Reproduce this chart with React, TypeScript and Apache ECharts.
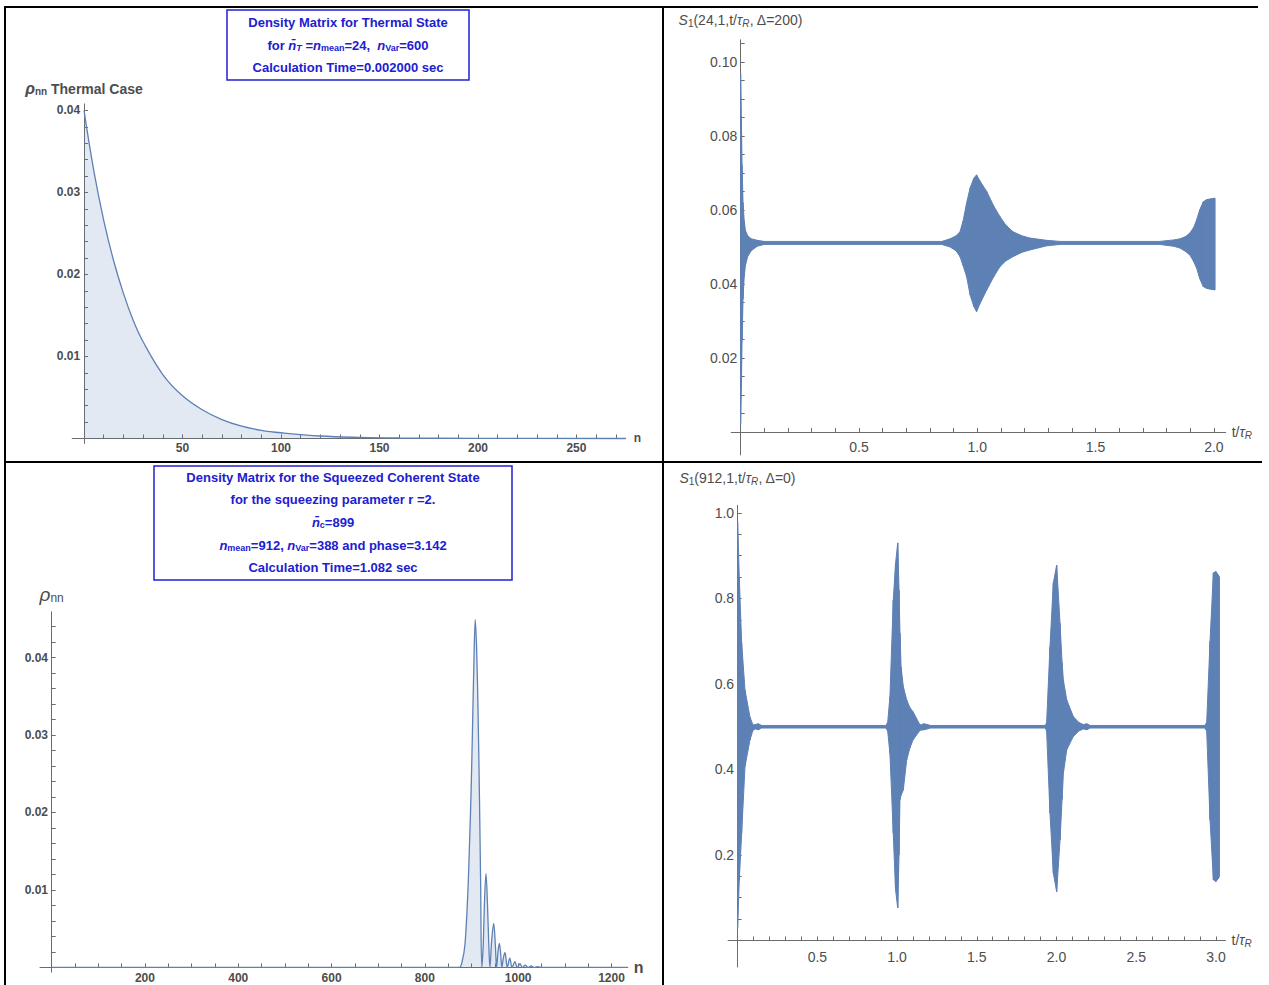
import React, { useEffect, useRef } from "react";
import * as echarts from "echarts";

const BLUE = "#5e81b5";
const AXIS = "#6b6b6b";
const LABEL = "#4d4d4d";
const TITLE_BLUE = "#2020d0";

// ---------- Panel 1: thermal density matrix ----------
const thermalN = [0, 5, 10, 15, 20, 25, 30, 40, 50, 60, 70, 80, 90, 100, 120, 140, 160, 200, 275];
const thermalRho = [0.04, 0.0326, 0.0266, 0.0217, 0.0177, 0.0144, 0.0118, 0.0078, 0.0052, 0.0035, 0.0023, 0.0015, 0.001, 0.0007, 0.0003, 0.00013, 0.00006, 0.00001, 0];

// ---------- Panel 2: squeezed coherent density matrix ----------
const squeezedN = [0, 860, 874, 880, 886, 892, 896, 899, 902, 905, 908, 911, 914, 917, 919.5, 922, 925, 928, 931, 934, 937, 939.5, 943, 947.5, 951, 953.7, 957, 959.6, 962.5, 965, 968.5, 971.7, 974, 976.6, 982, 987, 993, 998, 1004, 1009, 1015, 1021, 1028, 1034, 1042, 1050, 1060, 1235];
const squeezedRho = [0, 0, 0, 0.0008, 0.003, 0.0095, 0.0165, 0.0225, 0.0305, 0.039, 0.0449, 0.041, 0.033, 0.022, 0.011, 0, 0.0028, 0.0088, 0.0121, 0.0085, 0.003, 0, 0.0033, 0.0057, 0.003, 0, 0.0022, 0.0031, 0.0018, 0, 0.0013, 0.0019, 0.0011, 0, 0.0012, 0, 0.00075, 0, 0.0005, 0, 0.0003, 0, 0.0002, 0, 0.0001, 0, 0, 0];

// ---------- Panel 3: S1(24,1,t/τR, Δ=200) envelope ----------
const trT = [0, 0.003, 0.006, 0.01, 0.015, 0.02, 0.03, 0.045, 0.07, 0.1, 0.85, 0.885, 0.91, 0.927, 0.94, 0.955, 0.97, 0.985, 0.997, 1.01, 1.04, 1.07, 1.096, 1.12, 1.151, 1.19, 1.223, 1.293, 1.35, 1.77, 1.83, 1.857, 1.88, 1.899, 1.915, 1.927, 1.94, 1.955, 1.97, 1.985, 2.005];
const trLower = [0.002, 0.012, 0.025, 0.036, 0.042, 0.045, 0.0475, 0.049, 0.0502, 0.0507, 0.0507, 0.05, 0.049, 0.0474, 0.045, 0.042, 0.037, 0.034, 0.0325, 0.0345, 0.0384, 0.042, 0.0447, 0.0462, 0.0474, 0.0486, 0.0492, 0.0503, 0.0507, 0.0507, 0.0502, 0.0497, 0.0488, 0.0478, 0.046, 0.0443, 0.0415, 0.0393, 0.0388, 0.0386, 0.0384];
const trUpper = [0.097, 0.085, 0.072, 0.062, 0.057, 0.0545, 0.053, 0.0522, 0.0518, 0.0515, 0.0515, 0.0522, 0.053, 0.0541, 0.057, 0.0619, 0.066, 0.0685, 0.0695, 0.068, 0.065, 0.061, 0.0582, 0.056, 0.0541, 0.053, 0.0524, 0.0518, 0.0515, 0.0515, 0.0519, 0.0522, 0.0528, 0.0538, 0.0553, 0.0573, 0.06, 0.0622, 0.0628, 0.063, 0.0632];

// ---------- Panel 4: S1(912,1,t/τR, Δ=0) envelope ----------
const brT = [0, 0.01, 0.025, 0.046, 0.077, 0.096, 0.11, 0.13, 0.15, 0.93, 0.941, 0.955, 0.976, 0.99, 1.004, 1.012, 1.018, 1.025, 1.039, 1.06, 1.08, 1.1, 1.144, 1.17, 1.19, 1.21, 1.93, 1.938, 1.959, 1.98, 2.001, 2.022, 2.035, 2.043, 2.064, 2.105, 2.14, 2.168, 2.19, 2.21, 2.93, 2.942, 2.963, 2.984, 3.0, 3.015, 3.022];
const brLower = [0.03, 0.14, 0.251, 0.407, 0.469, 0.492, 0.495, 0.493, 0.497, 0.497, 0.49, 0.438, 0.251, 0.12, 0.076, 0.2, 0.329, 0.34, 0.352, 0.422, 0.45, 0.469, 0.492, 0.493, 0.495, 0.497, 0.497, 0.49, 0.298, 0.158, 0.114, 0.235, 0.33, 0.391, 0.446, 0.477, 0.49, 0.495, 0.493, 0.497, 0.497, 0.49, 0.282, 0.142, 0.138, 0.145, 0.15];
const brUpper = [0.98, 0.85, 0.696, 0.586, 0.523, 0.504, 0.505, 0.507, 0.503, 0.503, 0.51, 0.57, 0.796, 0.88, 0.93, 0.82, 0.719, 0.64, 0.594, 0.563, 0.545, 0.535, 0.504, 0.507, 0.505, 0.503, 0.503, 0.51, 0.687, 0.836, 0.878, 0.742, 0.65, 0.609, 0.563, 0.524, 0.51, 0.505, 0.507, 0.503, 0.503, 0.51, 0.7, 0.86, 0.863, 0.855, 0.85];

// ---------- tick labels ----------
const tlXLabels = [50, 100, 150, 200, 250];
const tlYLabels = [0.01, 0.02, 0.03, 0.04];
const blXLabels = [200, 400, 600, 800, 1000, 1200];
const blYLabels = [0.01, 0.02, 0.03, 0.04];
const trXLabels = [0.5, 1.0, 1.5, 2.0];
const trYLabels = [0.02, 0.04, 0.06, 0.08, 0.1];
const brXLabels = [0.5, 1.0, 1.5, 2.0, 2.5, 3.0];
const brYLabels = [0.2, 0.4, 0.6, 0.8, 1.0];

function ticks(step: number, count: number): number[] {
  const a: number[] = [];
  for (let i = 1; i <= count; i++) a.push(Math.round(i * step * 1e6) / 1e6);
  return a;
}

const zip = (xs: number[], ys: number[]) => xs.map((x, i) => [x, ys[i]]);

// rows [t0, lo0, up0, t1, lo1, up1] : one quad of the envelope band per row
const bandRows = (t: number[], lo: number[], up: number[]) =>
  t.slice(0, -1).map((x, i) => [x, lo[i], up[i], t[i + 1], lo[i + 1], up[i + 1]]);

const FONT_L = "'Liberation Sans', Arial, sans-serif";
const FONT_R = "'Liberation Sans Narrow', 'Liberation Sans', Arial, sans-serif";

function makeAxis(
  grid: number, min: number, max: number, labels: number[], minor: number[],
  fmt: (v: number) => string, name: any, right: boolean, margin: number
) {
  return {
    type: "value",
    gridIndex: grid,
    min,
    max,
    splitLine: { show: false },
    axisLine: { show: true, onZero: true, lineStyle: { color: AXIS, width: 1 } },
    axisTick: { show: true, inside: true, length: 4, customValues: minor, lineStyle: { color: AXIS } },
    axisLabel: {
      customValues: labels,
      formatter: (v: number) => fmt(v),
      color: LABEL,
      fontFamily: right ? FONT_R : FONT_L,
      fontWeight: right ? "normal" : "bold",
      fontSize: right ? 14 : 12,
      margin,
    },
    name: name.text,
    nameLocation: "end",
    nameGap: name.gap,
    nameTextStyle: name.style,
  };
}

export default function App() {
  const ref = useRef<HTMLDivElement>(null);

  useEffect(() => {
    if (!ref.current) return;
    const chart = echarts.init(ref.current, undefined, { renderer: "svg" });

    const rightNameStyle = {
      color: LABEL,
      fontFamily: FONT_R,
      fontSize: 14,
      rich: {
        i: { fontStyle: "italic", fontSize: 14, color: LABEL, fontFamily: FONT_R },
        s: { fontSize: 10, color: LABEL, fontFamily: FONT_R, padding: [7, 0, 0, 0] },
        si: { fontSize: 10, fontStyle: "italic", color: LABEL, fontFamily: FONT_R, padding: [7, 0, 0, 0] },
      },
    };

    const titleRich = {
      i: { fontStyle: "italic", fontWeight: "bold", fontSize: 13, fill: TITLE_BLUE, fontFamily: FONT_L },
      s: { fontWeight: "bold", fontSize: 9, fill: TITLE_BLUE, fontFamily: FONT_L, padding: [6, 0, 0, 0] },
      si: { fontStyle: "italic", fontWeight: "bold", fontSize: 9, fill: TITLE_BLUE, fontFamily: FONT_L, padding: [6, 0, 0, 0] },
    };
    const titleStyle = (text: string) => ({
      text,
      font: `bold 13px ${FONT_L}`,
      fill: TITLE_BLUE,
      align: "center",
      verticalAlign: "middle",
      rich: titleRich,
    });

    const bandSeries = (ai: number, t: number[], lo: number[], up: number[]) => ({
      type: "custom",
      xAxisIndex: ai,
      yAxisIndex: ai,
      data: bandRows(t, lo, up),
      encode: { x: [0, 3], y: [1, 2, 4, 5] },
      clip: true,
      renderItem: (_params: any, api: any) => {
        const a = api.coord([api.value(0), api.value(1)]);
        const b = api.coord([api.value(3), api.value(4)]);
        const c = api.coord([api.value(3), api.value(5)]);
        const d = api.coord([api.value(0), api.value(2)]);
        return {
          type: "polygon",
          shape: { points: [a, b, c, d] },
          style: { fill: BLUE, stroke: BLUE, lineWidth: 1, lineJoin: "round" },
        };
      },
    });

    const f2 = (v: number) => v.toFixed(2);
    const f1 = (v: number) => v.toFixed(1);
    const f0 = (v: number) => String(Math.round(v));

    chart.setOption({
      animation: false,
      backgroundColor: "#ffffff",
      grid: [
        { left: 72.2, top: 103.9, width: 553.5, height: 339.5 },
        { left: 40, top: 611.8, width: 587.8, height: 360.3 },
        { left: 731.2, top: 39.8, width: 494.5, height: 415.1 },
        { left: 728.1, top: 505.3, width: 497.4, height: 461.7 },
      ],
      xAxis: [
        makeAxis(0, -6, 275, tlXLabels, ticks(10, 27), f0, {
          text: "n", gap: 8,
          style: { color: LABEL, fontFamily: FONT_L, fontWeight: "bold", fontSize: 12 },
        }, false, -1),
        makeAxis(1, -25, 1235, blXLabels, ticks(50, 24), f0, {
          text: "n", gap: 6,
          style: { color: LABEL, fontFamily: FONT_L, fontWeight: "bold", fontSize: 16 },
        }, false, 0),
        makeAxis(2, -0.04, 2.05, trXLabels, ticks(0.1, 20), f1, {
          text: "t/{i|τ}{si|R}", gap: 6, style: rightNameStyle,
        }, true, -15),
        makeAxis(3, -0.06, 3.06, brXLabels, ticks(0.1, 30), f1, {
          text: "t/{i|τ}{si|R}", gap: 6, style: rightNameStyle,
        }, true, -17),
      ],
      yAxis: [
        makeAxis(0, -0.0006, 0.0408, tlYLabels, ticks(0.002, 20), f2, {
          text: "{r|ρ}{s|nn} Thermal Case", gap: 7,
          style: {
            color: LABEL, fontFamily: FONT_L, fontWeight: "bold", fontSize: 14,
            rich: {
              r: { fontStyle: "italic", fontSize: 16, color: LABEL, fontFamily: FONT_L },
              s: { fontSize: 10, color: LABEL, fontFamily: FONT_L, padding: [6, 0, 0, 0] },
            },
          },
        }, false, -8),
        makeAxis(1, -0.0006, 0.0459, blYLabels, ticks(0.002, 22), f2, {
          text: "{r|ρ}{s|nn}", gap: 8,
          style: {
            color: LABEL, fontFamily: FONT_L, fontSize: 17,
            rich: {
              r: { fontStyle: "italic", fontSize: 19, color: LABEL, fontFamily: FONT_L },
              s: { fontSize: 12, color: LABEL, fontFamily: FONT_L, padding: [7, 0, 0, 0] },
            },
          },
        }, false, -8),
        makeAxis(2, -0.0062, 0.106, trYLabels, ticks(0.005, 21), f2, {
          text: "{i|S}{s|1}(24,1,t/{i|τ}{si|R}, Δ=200)", gap: 11, style: rightNameStyle,
        }, true, -6),
        makeAxis(3, -0.062, 1.018, brYLabels, ticks(0.05, 20), f1, {
          text: "{i|S}{s|1}(912,1,t/{i|τ}{si|R}, Δ=0)", gap: 19, style: rightNameStyle,
        }, true, -6),
      ],
      series: [
        {
          type: "line",
          xAxisIndex: 0,
          yAxisIndex: 0,
          data: zip(thermalN, thermalRho),
          smooth: 0.4,
          showSymbol: false,
          symbol: "none",
          lineStyle: { color: BLUE, width: 1.3 },
          areaStyle: { color: "rgba(94,129,181,0.25)" },
        },
        {
          type: "line",
          xAxisIndex: 1,
          yAxisIndex: 1,
          data: zip(squeezedN, squeezedRho),
          smooth: 0.35,
          showSymbol: false,
          symbol: "none",
          lineStyle: { color: BLUE, width: 1.3 },
          areaStyle: { color: "rgba(94,129,181,0.25)" },
        },
        bandSeries(2, trT, trLower, trUpper),
        bandSeries(3, brT, brLower, brUpper),
      ],
      graphic: [
        // table rules
        { type: "line", shape: { x1: 4, y1: 7, x2: 1258, y2: 7 }, style: { stroke: "#000", lineWidth: 2 }, z: 100 },
        { type: "line", shape: { x1: 5, y1: 6, x2: 5, y2: 985 }, style: { stroke: "#000", lineWidth: 2 }, z: 100 },
        { type: "line", shape: { x1: 663, y1: 6, x2: 663, y2: 985 }, style: { stroke: "#000", lineWidth: 2 }, z: 100 },
        { type: "line", shape: { x1: 4, y1: 462, x2: 1262, y2: 462 }, style: { stroke: "#000", lineWidth: 2 }, z: 100 },
        // thermal title box
        { type: "rect", shape: { x: 227, y: 10, width: 242, height: 70 }, style: { fill: "none", stroke: TITLE_BLUE, lineWidth: 1.5 }, z: 100 },
        { type: "text", x: 348, y: 22, style: titleStyle("Density Matrix for Thermal State"), z: 100 },
        { type: "text", x: 348, y: 45, style: titleStyle("for {i|n̄}{si|T} ={i|n}{s|mean}=24,  {i|n}{s|Var}=600"), z: 100 },
        { type: "text", x: 348, y: 67, style: titleStyle("Calculation Time=0.002000 sec"), z: 100 },
        // squeezed title box
        { type: "rect", shape: { x: 154, y: 466, width: 358, height: 114 }, style: { fill: "none", stroke: TITLE_BLUE, lineWidth: 1.5 }, z: 100 },
        { type: "text", x: 333, y: 477, style: titleStyle("Density Matrix for the Squeezed Coherent State"), z: 100 },
        { type: "text", x: 333, y: 499, style: titleStyle("for the squeezing parameter r =2."), z: 100 },
        { type: "text", x: 333, y: 522, style: titleStyle("{i|n̄}{s|c}=899"), z: 100 },
        { type: "text", x: 333, y: 545, style: titleStyle("{i|n}{s|mean}=912, {i|n}{s|Var}=388 and phase=3.142"), z: 100 },
        { type: "text", x: 333, y: 567, style: titleStyle("Calculation Time=1.082 sec"), z: 100 },
      ],
    });

    return () => chart.dispose();
  }, []);

  return (
    <div
      ref={ref}
      style={{ position: "fixed", left: 0, top: 0, width: 1269, height: 985, background: "#fff" }}
    />
  );
}
